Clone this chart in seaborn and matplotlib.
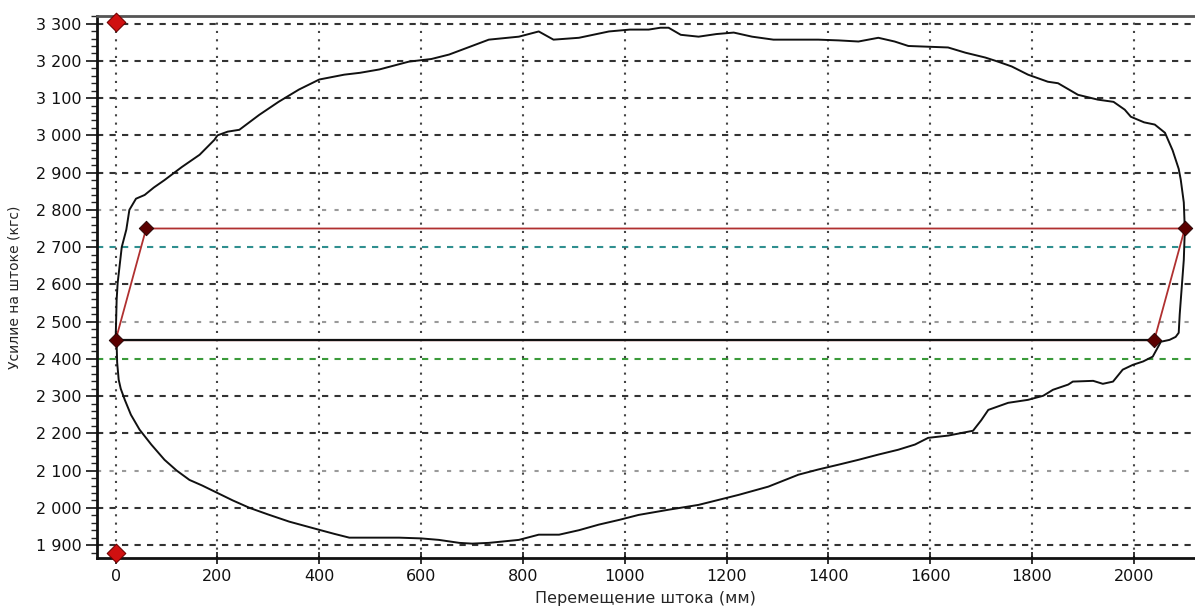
import pandas as pd
import matplotlib.pyplot as plt
import matplotlib.ticker as mticker
import seaborn as sns

# dynamometer card
card_x = [0, 2, 4, 12, 21, 27, 40, 57, 75, 96, 130, 165, 194, 200, 220, 243, 282, 320, 360,
          400, 449, 480, 518, 576, 620, 655, 700, 733, 792, 831, 860, 910, 969, 1010, 1047,
          1070, 1086, 1110, 1145, 1180, 1214, 1250, 1292, 1340, 1380, 1420, 1459, 1498, 1530,
          1557, 1596, 1635, 1669, 1708, 1733, 1760, 1792, 1831, 1851, 1890, 1929, 1960, 1982,
          1994, 2020, 2041, 2061, 2076, 2088, 2092, 2098, 2100, 2098, 2092, 2090, 2088, 2082,
          2070, 2053, 2037, 2018, 1998, 1978, 1959, 1939, 1920, 1900, 1880, 1871, 1841, 1822,
          1792, 1753, 1714, 1700, 1684, 1665, 1635, 1596, 1570, 1537, 1498, 1459, 1420, 1380,
          1341, 1282, 1224, 1180, 1145, 1086, 1027, 990, 949, 910, 871, 831, 792, 733, 700,
          675, 635, 600, 557, 459, 430, 400, 341, 300, 263, 230, 200, 170, 145, 120, 96, 70,
          47, 30, 18, 10, 6, 3, 2, 0]
card_y = [2450, 2559, 2604, 2700, 2747, 2800, 2830, 2840, 2860, 2880, 2915, 2948, 2988, 3000,
          3010, 3015, 3055, 3090, 3123, 3150, 3163, 3168, 3177, 3198, 3205, 3217, 3240, 3257,
          3265, 3279, 3257, 3262, 3279, 3284, 3284, 3289, 3289, 3270, 3265, 3272, 3276, 3265,
          3257, 3257, 3257, 3255, 3252, 3262, 3252, 3240, 3238, 3236, 3222, 3209, 3198, 3185,
          3163, 3144, 3140, 3109, 3096, 3090, 3069, 3050, 3035, 3029, 3007, 2960, 2910, 2881,
          2820, 2747, 2666, 2559, 2520, 2470, 2459, 2451, 2446, 2406, 2393, 2384, 2371, 2339,
          2333, 2341, 2340, 2339, 2331, 2317, 2301, 2290, 2282, 2263, 2235, 2207, 2202, 2194,
          2188, 2170, 2156, 2143, 2129, 2116, 2103, 2089, 2057, 2035, 2020, 2008, 1995, 1981,
          1968, 1955, 1940, 1928, 1928, 1914, 1906, 1904, 1906, 1914, 1918, 1920, 1920, 1930,
          1941, 1963, 1982, 2000, 2020, 2040, 2060, 2075, 2100, 2129, 2170, 2210, 2250, 2290,
          2320, 2344, 2390, 2438, 2450]

# theoretical card corners
corner_x = [0, 60, 2100, 2040]
corner_y = [2450, 2750, 2750, 2450]

# scale limit markers
limit_x = [0, 0]
limit_y = [3305, 1880]

x_ticks = list(range(0, 2001, 200))
y_ticks = list(range(1900, 3301, 100))

sns.set_theme(style="white")
plt.rcParams["font.family"] = ["DejaVu Sans"]

fig = plt.figure(figsize=(11.95, 6.08), dpi=100)
ax = fig.add_axes([0.081, 0.082, 0.919, 0.892])

# grid, drawn by hand to get the odd colours of the original
hline_style = {
    2800: ("#9a9a9a", (0, (2, 4))),
    2700: ("#2f8f8f", (0, (3, 3))),
    2500: ("#9a9a9a", (0, (2, 4))),
    2400: ("#3a9a3a", (0, (3, 3))),
    2100: ("#9a9a9a", (0, (2, 4))),
}
for y in y_ticks:
    color, ls = hline_style.get(y, ("#333333", (0, (3, 3))))
    ax.axhline(y, color=color, linestyle=ls, linewidth=1.5, zorder=0)
for x in x_ticks:
    ax.axvline(x, color="#444444", linestyle=(0, (1, 3)), linewidth=1.5, zorder=0)

card = pd.DataFrame({"x": card_x, "y": card_y})
sns.lineplot(data=card, x="x", y="y", sort=False, estimator=None, color="#111111",
             linewidth=1.4, ax=ax, zorder=3)

corners = pd.DataFrame({"x": corner_x + corner_x[:1], "y": corner_y + corner_y[:1]})
sns.lineplot(data=corners, x="x", y="y", sort=False, estimator=None, color="#b03030",
             linewidth=1.3, ax=ax, zorder=4)
# bottom edge is black
ax.plot([corner_x[0], corner_x[3]], [corner_y[0], corner_y[3]], color="#111111",
        linewidth=1.6, zorder=4)
sns.scatterplot(x=corner_x, y=corner_y, marker="D", s=55, color="#5a0000",
                edgecolor="#200000", ax=ax, zorder=5, clip_on=False)
sns.scatterplot(x=limit_x, y=limit_y, marker="D", s=90, color="#d01010",
                edgecolor="#700000", ax=ax, zorder=5, clip_on=False)

ax.set_xlim(-37, 2120)
ax.set_ylim(1865, 3321)
ax.set_xticks(x_ticks)
ax.set_yticks(y_ticks)
ax.yaxis.set_minor_locator(mticker.MultipleLocator(20))
ax.yaxis.set_major_formatter(
    mticker.FuncFormatter(lambda v, p: f"{int(v):,}".replace(",", " ")))
ax.tick_params(axis="y", which="major", direction="out", length=8, width=1.2,
               labelsize=11.5, colors="#111111", left=True, pad=3)
ax.tick_params(axis="y", which="minor", direction="out", length=4, width=1, left=True)
ax.tick_params(axis="x", which="major", direction="inout", length=8, width=1.2,
               labelsize=11.5, colors="#111111", bottom=True)

for side in ["left", "bottom"]:
    ax.spines[side].set_color("#111111")
    ax.spines[side].set_linewidth(2)
ax.spines["top"].set_color("#555555")
ax.spines["top"].set_linewidth(2)
ax.spines["right"].set_visible(False)

ax.set_xlabel("Перемещение штока (мм)", fontsize=11.5, labelpad=5)
ax.set_ylabel("Усилие на штоке (кгс)", fontsize=10, labelpad=10)

plt.savefig("out.png", dpi=100)
